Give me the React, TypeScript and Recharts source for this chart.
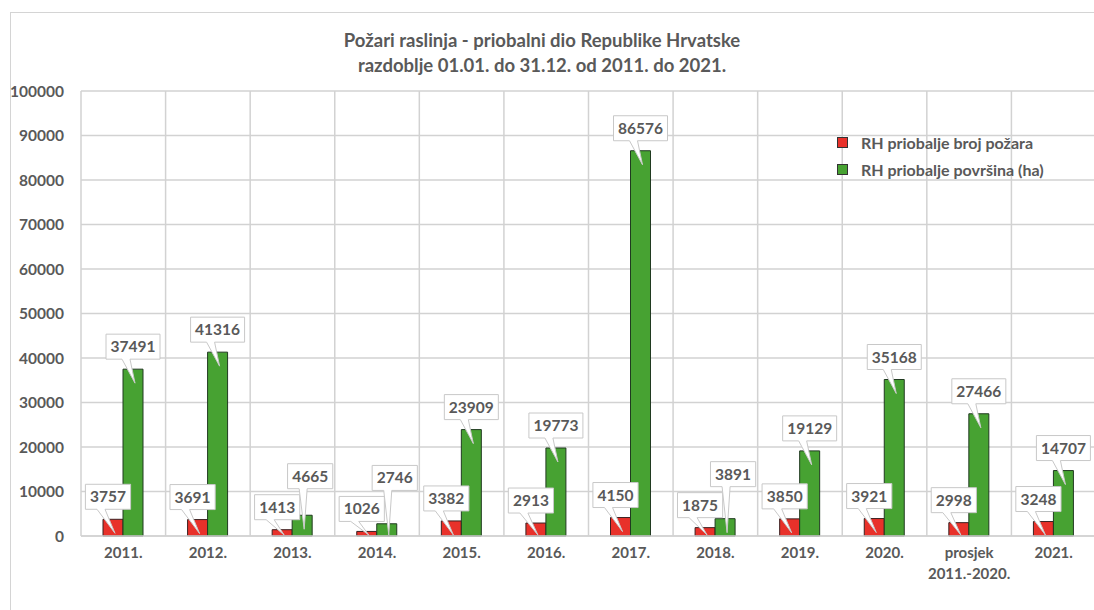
import React from 'react';
import { BarChart, Bar, XAxis, YAxis, CartesianGrid, LabelList } from 'recharts';

// kategorije (godine)
const categories = ['2011.', '2012.', '2013.', '2014.', '2015.', '2016.', '2017.', '2018.', '2019.', '2020.', 'prosjek\n2011.-2020.', '2021.'];
// broj požara
const brojPozara = [3757, 3691, 1413, 1026, 3382, 2913, 4150, 1875, 3850, 3921, 2998, 3248];
// površina (ha)
const povrsina = [37491, 41316, 4665, 2746, 23909, 19773, 86576, 3891, 19129, 35168, 27466, 14707];
const yTicks = [0, 10000, 20000, 30000, 40000, 50000, 60000, 70000, 80000, 90000, 100000];

const data = categories.map((c, i) => ({ name: c, broj: brojPozara[i], povrsina: povrsina[i] }));

const TEXT = '#595959';
const FONT = 'Lato, "Open Sans", sans-serif';
const BOX_H = 25;
const GAP = 10;

const calloutShape = (cx: number, y: number, height: number, bx: number, by: number, s: string) => {
  const w = s.length * 8.8 + 10;
  const left = bx - w / 2;
  const top = by - BOX_H;
  const tipY = y + Math.min(14, Math.max(height - 1, 0));
  const p1 = Math.max(bx - 11, left + 2);
  const p2 = Math.min(bx - 3, left + w - 2);
  const d = `M${left},${top} H${left + w} V${by} H${p2} L${cx + 2},${tipY} L${p1},${by} H${left} Z`;
  return (
    <g>
      <path d={d} fill="#fff" stroke="#c8c8c8" strokeWidth={1} />
      <text x={bx} y={by - 7} textAnchor="middle" fill={TEXT} fontSize={15.5} fontWeight={700} fontFamily={FONT}>
        {s}
      </text>
    </g>
  );
};

// oblačić za crveni stupac
const RedCallout = (props: any) => {
  const { x, y, width, height, value } = props;
  const cx = x + width / 2;
  return calloutShape(cx, y, height, cx - 5, y - GAP, String(value));
};

// oblačić za zeleni stupac, podignut ako bi se preklopio s crvenim
const GreenCallout = (props: any) => {
  const { x, y, width, height, value, index } = props;
  const cx = x + width / 2;
  const base = y + height;
  const scale = value > 0 ? height / value : 0;
  const redTop = base - brojPozara[index] * scale;
  const redBoxTop = redTop - GAP - BOX_H;
  let by = y - GAP;
  let bx = cx;
  if (by > redBoxTop - 6) {
    by = redBoxTop - 6;
    bx = cx + 8;
  }
  return calloutShape(cx, y, height, bx, by, String(value));
};

const XTick = (props: any) => {
  const { x, y, payload } = props;
  const lines = String(payload.value).split('\n');
  return (
    <text x={x} y={y} textAnchor="middle" fill={TEXT} fontSize={15} fontWeight={700} fontFamily={FONT}>
      {lines.map((l, i) => (
        <tspan key={i} x={x} dy={i === 0 ? 14 : 21}>{l}</tspan>
      ))}
    </text>
  );
};

const legendItems = [
  { c: '#e8312a', t: 'RH priobalje broj požara' },
  { c: '#47a232', t: 'RH priobalje površina (ha)' },
];

export default function App() {
  return (
    <div style={{ position: 'absolute', left: 0, top: 0, width: 1094, height: 610, overflow: 'hidden', background: '#fff' }}>
      <div style={{ position: 'absolute', left: 10, top: 12, width: 1200, height: 700, border: '1px solid #d4d4d4' }} />
      <div style={{ position: 'absolute', left: 0, top: 28, width: 1084, textAlign: 'center', fontFamily: FONT, fontSize: 18.5, fontWeight: 700, color: TEXT, lineHeight: '25px' }}>
        Požari raslinja - priobalni dio Republike Hrvatske
        <br />
        razdoblje 01.01. do 31.12. od 2011. do 2021.
      </div>
      <div style={{ position: 'absolute', left: 0, top: 0 }}>
        <BarChart width={1120} height={610} data={data} margin={{ top: 91, right: 24, left: 0, bottom: 34 }} barGap={0} barSize={20}>
          <CartesianGrid
            stroke="#d2d2d2"
            strokeWidth={1.5}
            verticalCoordinatesGenerator={({ offset }: any) =>
              categories.map((_, i) => offset.left + (i * offset.width) / categories.length).concat(offset.left + offset.width)
            }
          />
          <XAxis dataKey="name" interval={0} tickLine={false} axisLine={{ stroke: '#d2d2d2', strokeWidth: 1.5 }} height={40} tick={<XTick />} />
          <YAxis
            domain={[0, 100000]}
            ticks={yTicks}
            width={81}
            tickLine={false}
            axisLine={false}
            tickMargin={11}
            tick={{ fill: TEXT, fontSize: 15.5, fontWeight: 700, fontFamily: FONT }}
          />
          <Bar dataKey="broj" fill="#e8312a" stroke="#3a2020" strokeWidth={1} isAnimationActive={false}>
            <LabelList dataKey="broj" content={<RedCallout />} />
          </Bar>
          <Bar dataKey="povrsina" fill="#47a232" stroke="#203a20" strokeWidth={1} isAnimationActive={false}>
            <LabelList dataKey="povrsina" content={<GreenCallout />} />
          </Bar>
        </BarChart>
      </div>
      <div style={{ position: 'absolute', left: 837, top: 129, fontFamily: FONT, fontSize: 16, fontWeight: 700, color: TEXT }}>
        {legendItems.map((it) => (
          <div key={it.t} style={{ display: 'flex', alignItems: 'center', height: 27 }}>
            <span style={{ width: 9, height: 9, background: it.c, border: '1px solid #333', marginRight: 13 }} />
            {it.t}
          </div>
        ))}
      </div>
    </div>
  );
}
